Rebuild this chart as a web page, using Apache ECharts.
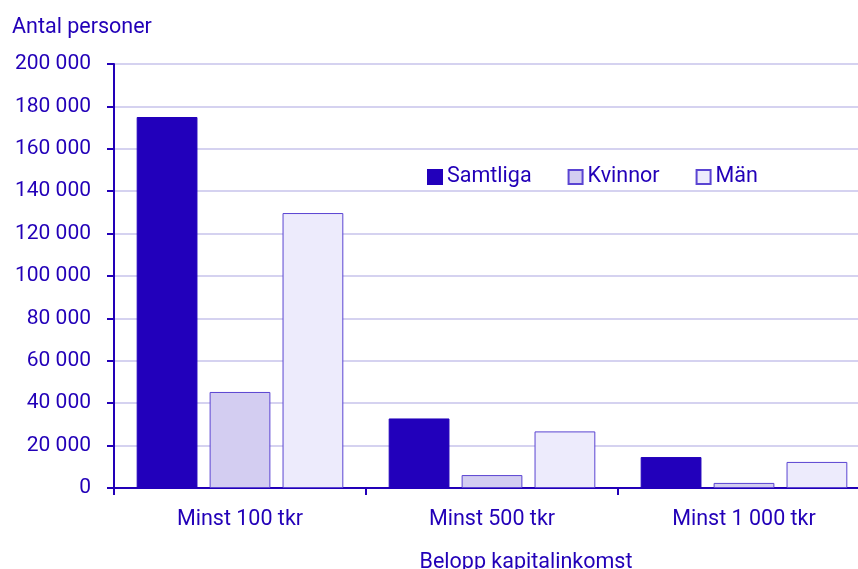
<!DOCTYPE html>
<html>
<head>
<meta charset="utf-8">
<script src="https://cdn.jsdelivr.net/npm/echarts@6/dist/echarts.min.js"></script>
<style>
  html, body { margin: 0; padding: 0; background: #fff; }
  #chart { width: 858px; height: 569px; }
</style>
</head>
<body>
<div id="chart"></div>
<script>
const categories = ['Minst 100 tkr', 'Minst 500 tkr', 'Minst 1 000 tkr']
const samtliga = [175000, 32800, 14600]
const kvinnor = [45300, 6100, 2400]
const man = [129700, 26700, 12300]

const textColor = '#2200b8'
const fmt = (v) => String(v).replace(/\B(?=(\d{3})+(?!\d))/g, ' ')

const chart = echarts.init(document.getElementById('chart'))

const barStyle = (fill, border) => ({
  color: fill,
  borderColor: border,
  borderWidth: 1,
})

chart.setOption({
  animation: false,
  textStyle: { fontFamily: 'Roboto', color: textColor },
  title: [
    {
      text: 'Antal personer',
      left: 7,
      top: 12,
      textStyle: { fontSize: 21.5, fontWeight: 'normal', color: textColor, fontFamily: 'Roboto' },
    },
    {
      text: 'Belopp kapitalinkomst',
      left: 521,
      top: 547,
      textAlign: 'center',
      textStyle: { fontSize: 21.5, fontWeight: 'normal', color: textColor, fontFamily: 'Roboto' },
    },
  ],
  legend: {
    top: 161,
    left: 422,
    itemWidth: 14,
    itemHeight: 14,
    itemGap: 36,
    icon: 'rect',
    textStyle: { fontSize: 21.5, color: textColor },
    data: ['Samtliga', 'Kvinnor', 'Män'],
  },
  grid: { left: 114, right: -12, top: 64, bottom: 81, outerBoundsMode: 'none', containLabel: false },
  xAxis: {
    type: 'category',
    data: categories,
    axisLine: { lineStyle: { color: textColor, width: 2 } },
    axisTick: { show: true, length: 7, lineStyle: { color: textColor, width: 2 } },
    axisLabel: { fontSize: 21.5, color: textColor, margin: 21 },
  },
  yAxis: {
    type: 'value',
    min: 0,
    max: 200000,
    interval: 20000,
    axisLine: { show: true, lineStyle: { color: textColor, width: 2 } },
    axisTick: { show: true, length: 7, lineStyle: { color: textColor, width: 2 } },
    axisLabel: { fontSize: 21, color: textColor, margin: 23, formatter: fmt },
    splitLine: { lineStyle: { color: '#d5d2f0', width: 2 } },
  },
  series: [
    {
      name: 'Samtliga',
      type: 'bar',
      data: samtliga,
      barGap: '20%',
      barCategoryGap: '18%',
      itemStyle: barStyle('#2200bb', '#2200bb'),
    },
    {
      name: 'Kvinnor',
      type: 'bar',
      data: kvinnor,
      itemStyle: barStyle('#d3cdf1', '#5a44d2'),
    },
    {
      name: 'Män',
      type: 'bar',
      data: man,
      itemStyle: barStyle('#edebfc', '#5a44d2'),
    },
  ],
})
</script>
</body>
</html>
